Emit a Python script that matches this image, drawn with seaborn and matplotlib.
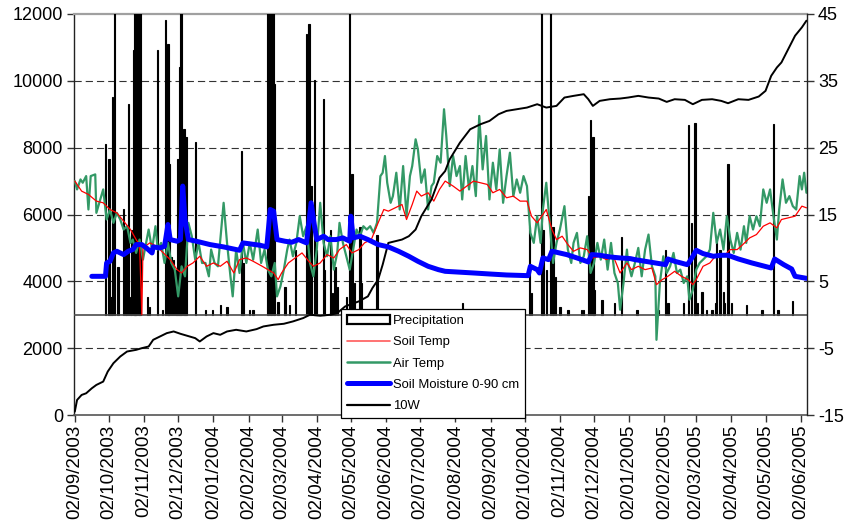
import numpy as np
import pandas as pd
import matplotlib
matplotlib.use('Agg')
import matplotlib.pyplot as plt
import matplotlib.dates as mdates
from matplotlib.patches import Patch
from matplotlib.lines import Line2D
import seaborn as sns

# ---------------- data (x values are days since start_date) ----------------
start_date = '2003-09-02'
axis_end_day = 644.5

precip_day = [27, 30, 32, 33, 35, 38, 43, 45, 47, 49, 50, 52, 53, 54, 56, 57, 58, 64, 66, 73,
              77, 80, 82, 83, 85, 87, 89, 91, 92, 93, 94, 96, 98, 106, 115, 121, 128, 134, 147, 148,
              154, 157, 170, 172, 173, 175, 176, 179, 185, 189, 194, 204, 206, 208, 211, 213, 219, 220, 225, 227,
              229, 231, 239, 242, 244, 246, 251, 252, 266, 341, 400, 402, 411, 412, 415, 419, 421, 423, 427, 434,
              446, 448, 452, 454, 456, 457, 464, 475, 481, 495, 514, 520, 522, 536, 540, 543, 546, 548, 552, 556,
              561, 564, 565, 568, 571, 572, 575, 578, 591, 605, 615, 619, 632]
precip_mm = [34, 31, 3.6, 43.5, 70, 9.6, 21, 17.6, 42, 3.6, 17, 52.8, 65, 70, 70, 52.8, 70, 3.6, 1.5, 52.8,
             1, 58.8, 54, 30, 11.6, 11, 9, 31, 49.5, 70, 70, 37, 35.5, 34.5, 1, 1, 2, 1.5, 32.6, 10.3,
             1, 1, 70, 70, 70, 70, 46, 2.5, 5.6, 2, 13, 56, 58, 25.6, 46.8, 13, 43, 9, 17, 4.3,
             9.6, 5.6, 3.6, 70, 28, 6.3, 17.6, 6.3, 16, 2.3, 17.6, 4.3, 70, 17, 9, 70, 17.6, 7.6, 1.5, 1,
             1, 1, 23.6, 38.9, 35.5, 5, 3, 2.3, 15.6, 1, 1, 13, 2.3, 2.3, 37.9, 18.3, 38.2, 2.3, 4.6, 1,
             1, 2.3, 15, 13, 4.6, 2.3, 30, 2.3, 2, 1, 38, 1, 2.7]

soil_temp_day = [0, 6, 12, 19, 25, 31, 37, 43, 49, 54, 57, 59, 60, 66, 72, 78, 84, 90, 94, 99,
                 104, 110, 116, 122, 128, 134, 140, 145, 151, 157, 165, 170, 175, 179, 182, 188, 194, 200, 206, 210,
                 216, 222, 228, 233, 239, 244, 250, 255, 261, 267, 272, 276, 282, 288, 292, 297, 301, 305, 311, 316,
                 321, 326, 333, 339, 345, 351, 357, 363, 368, 374, 380, 386, 392, 398, 402, 407, 411, 415, 420, 424,
                 429, 434, 439, 445, 451, 456, 462, 468, 474, 480, 486, 490, 496, 502, 508, 512, 517, 522, 528, 534,
                 540, 544, 547, 553, 559, 565, 571, 577, 583, 588, 594, 600, 606, 612, 618, 622, 628, 634, 640, 644]
soil_temp = [20.0, 18.5, 18.0, 17.0, 16.75, 15.75, 15.25, 14.0, 12.75, 11.25, 10.5, 0.0, 10.0, 10.75, 10.25, 9.25, 8.25, 6.75, 6.25, 7.25,
             7.75, 8.75, 7.25, 7.75, 7.25, 8.0, 6.25, 8.25, 8.5, 8.0, 7.25, 6.75, 6.25, 5.25, 6.25, 7.75, 8.5, 9.25, 8.0, 7.25,
             7.75, 9.0, 8.5, 9.75, 10.5, 9.25, 9.75, 10.75, 11.25, 13.75, 15.75, 15.5, 16.0, 16.5, 14.25, 16.5, 18.5, 17.75, 18.25, 17.0,
             18.75, 20.0, 19.25, 18.5, 19.25, 20.0, 19.75, 19.5, 18.25, 18.75, 17.5, 17.75, 17.0, 17.0, 14.75, 13.75, 14.75, 15.75, 12.75, 11.25,
             11.75, 10.5, 9.5, 10.0, 9.75, 8.5, 8.75, 8.25, 8.75, 6.25, 7.75, 6.75, 7.25, 6.75, 7.0, 4.5, 5.25, 5.75, 6.5, 5.75,
             5.25, 4.5, 5.25, 7.25, 7.75, 9.0, 8.75, 9.75, 9.75, 10.5, 11.5, 12.0, 13.25, 13.75, 13.0, 14.25, 14.5, 14.75, 16.25, 16.0]

air_temp_day = [0, 2, 5, 7, 10, 12, 14, 18, 19, 25, 28, 31, 34, 37, 40, 43, 46, 49, 51, 54,
                57, 60, 65, 68, 71, 73, 76, 79, 82, 85, 88, 91, 94, 97, 100, 103, 106, 109, 112, 115,
                118, 120, 123, 126, 131, 134, 137, 139, 142, 145, 148, 151, 154, 157, 161, 164, 167, 170, 173, 176,
                178, 181, 184, 187, 189, 192, 195, 198, 201, 204, 207, 210, 213, 216, 219, 222, 225, 228, 231, 233,
                236, 239, 242, 245, 248, 251, 254, 257, 260, 263, 266, 269, 271, 273, 275, 278, 280, 283, 286, 289,
                292, 295, 297, 300, 302, 305, 308, 311, 314, 316, 319, 322, 325, 327, 330, 333, 336, 339, 341, 344,
                347, 350, 353, 356, 359, 362, 365, 368, 371, 374, 377, 380, 383, 386, 389, 392, 395, 398, 401, 404,
                407, 410, 412, 415, 418, 421, 424, 427, 431, 434, 437, 439, 442, 445, 448, 451, 454, 457, 460, 463,
                466, 469, 472, 475, 478, 480, 483, 486, 487, 490, 493, 496, 499, 502, 505, 508, 511, 512, 515, 518,
                521, 524, 527, 530, 533, 536, 539, 541, 544, 547, 550, 553, 556, 559, 562, 565, 568, 571, 574, 577,
                580, 583, 586, 589, 591, 594, 597, 600, 603, 606, 609, 612, 615, 618, 620, 623, 626, 629, 632, 635,
                638, 640, 642, 644]
air_temp = [20.0, 18.75, 20.25, 19.75, 20.75, 15.75, 20.75, 21.0, 15.25, 18.75, 14.25, 15.75, 13.75, 15.25, 14.25, 12.75, 13.25, 10.75, 11.25, 9.25,
            11.25, 8.25, 12.75, 9.75, 13.25, 9.75, 10.75, 7.75, 10.75, 7.75, 6.75, 2.75, 7.25, 5.75, 13.75, 11.75, 8.25, 10.75, 7.75, 7.75,
            5.75, 9.75, 7.75, 7.25, 16.75, 10.75, 5.75, 2.75, 9.75, 6.25, 10.75, 7.75, 10.75, 8.25, 12.75, 7.75, 9.75, 6.75, 5.75, 7.75,
            2.75, 4.25, 6.75, 9.75, 11.25, 8.75, 10.75, 14.75, 11.75, 13.25, 7.75, 5.75, 9.75, 16.75, 10.75, 8.75, 11.75, 6.75, 9.25, 13.75,
            10.75, 8.75, 6.75, 9.75, 12.75, 11.75, 13.25, 12.75, 13.25, 12.25, 13.75, 20.75, 21.25, 23.75, 19.75, 16.75, 17.75, 21.25, 15.75, 22.25,
            14.75, 20.75, 22.25, 26.25, 24.75, 19.75, 21.75, 15.75, 19.25, 19.75, 23.75, 22.75, 30.75, 26.75, 19.25, 23.75, 20.75, 22.25, 17.25, 23.75,
            18.75, 22.25, 17.75, 29.75, 21.75, 26.75, 17.25, 22.75, 18.75, 24.75, 16.75, 20.75, 24.25, 17.75, 20.25, 18.25, 20.75, 19.25, 12.25, 10.75,
            14.75, 10.75, 15.75, 19.75, 13.75, 7.75, 10.75, 12.75, 16.25, 9.75, 7.75, 10.75, 12.25, 7.75, 8.75, 11.75, 6.25, 7.75, 10.75, 8.25,
            11.25, 6.75, 10.75, 6.25, 4.75, 0.75, 4.75, 9.75, 7.75, 5.75, 7.75, 10.0, 5.75, 9.75, 12.0, 7.25, 5.75, -3.75, 4.75, 8.75,
            6.25, 7.25, 9.25, 6.25, 6.75, 4.75, 5.75, 2.25, 3.75, 6.75, 7.75, 8.25, 8.75, 9.75, 15.25, 10.75, 12.75, 9.75, 14.75, 11.25,
            9.25, 12.25, 9.75, 13.25, 10.75, 14.75, 12.75, 14.75, 13.25, 18.75, 16.75, 18.75, 14.75, 11.25, 15.75, 20.25, 16.75, 17.75, 16.25, 15.75,
            20.75, 18.75, 21.25, 18.25]

moisture_day = [15, 27, 28, 31, 34, 37, 43, 47, 51, 54, 59, 63, 68, 69, 75, 79, 82, 84, 90, 93,
                95, 97, 100, 107, 119, 131, 145, 148, 163, 169, 172, 175, 178, 185, 191, 197, 204, 208, 211, 213,
                219, 223, 230, 236, 242, 243, 245, 251, 258, 267, 276, 285, 294, 302, 311, 320, 326, 336, 351, 365,
                380, 399, 401, 407, 409, 412, 417, 420, 424, 433, 442, 452, 455, 462, 471, 480, 489, 493, 502, 511,
                520, 522, 528, 539, 540, 544, 547, 553, 562, 569, 575, 584, 596, 613, 616, 624, 631, 634, 644]
moisture = [4150, 4150, 4550, 4600, 4850, 4900, 4800, 4900, 4950, 5100, 5100, 5000, 4850, 5030, 5000, 5050, 5700, 5250, 5200, 5250,
            6850, 5850, 5250, 5200, 5100, 5030, 4930, 5150, 5080, 5030, 6150, 6100, 5250, 5200, 5170, 5250, 5150, 6350, 5650, 5250,
            5350, 5250, 5250, 5300, 5200, 5950, 5300, 5350, 5250, 5100, 5030, 4900, 4750, 4600, 4450, 4350, 4300, 4280, 4250, 4220,
            4190, 4170, 4450, 4350, 4250, 4700, 4650, 4900, 4870, 4800, 4700, 4580, 4800, 4780, 4730, 4700, 4680, 4650, 4600, 4550,
            4500, 4670, 4600, 4500, 4530, 4750, 4930, 4830, 4750, 4780, 4780, 4670, 4550, 4400, 4670, 4500, 4370, 4150, 4090]

w10_day = [0, 2, 6, 10, 15, 19, 25, 29, 34, 40, 46, 54, 59, 65, 69, 75, 81, 87, 93, 101,
           106, 110, 116, 122, 128, 134, 142, 151, 160, 166, 175, 184, 192, 201, 207, 216, 225, 231, 238, 250,
           258, 262, 267, 271, 276, 282, 288, 294, 300, 305, 314, 321, 326, 330, 339, 348, 357, 365, 373, 380,
           389, 398, 407, 415, 424, 431, 439, 448, 452, 456, 462, 471, 480, 487, 496, 505, 514, 521, 528, 537,
           544, 552, 561, 569, 575, 584, 593, 602, 608, 613, 618, 622, 628, 634, 640, 644]
w10 = [100, 450, 600, 650, 800, 900, 1000, 1300, 1550, 1750, 1900, 1950, 2000, 2050, 2250, 2350, 2450, 2500, 2430, 2350,
       2300, 2200, 2350, 2450, 2400, 2500, 2550, 2500, 2570, 2650, 2700, 2730, 2800, 2900, 3000, 2970, 3000, 3050, 3250, 3400,
       3550, 3800, 4050, 4500, 5150, 5200, 5250, 5350, 5550, 5950, 6450, 7100, 7300, 7650, 8150, 8550, 8700, 8800, 9000, 9100,
       9150, 9200, 9300, 9200, 9250, 9500, 9550, 9600, 9450, 9250, 9400, 9450, 9470, 9500, 9550, 9500, 9470, 9370, 9450, 9430,
       9300, 9430, 9450, 9400, 9330, 9450, 9430, 9530, 9700, 10150, 10400, 10550, 10950, 11350, 11600, 11800]

left_ticks = [0, 2000, 4000, 6000, 8000, 10000, 12000]
right_ticks = [-15, -5, 5, 15, 25, 35, 45]
legend_labels = ['Precipitation', 'Soil Temp', 'Air Temp', 'Soil Moisture 0-90 cm', '10W']

# ---------------- helpers ----------------
t0 = pd.Timestamp(start_date)
def to_dates(days):
    return t0 + pd.to_timedelta(np.asarray(days, dtype=float), unit='D')

# ---------------- figure ----------------
sns.set_style('white')
plt.rcParams['font.family'] = ['Liberation Sans', 'DejaVu Sans']
plt.rcParams['axes.unicode_minus'] = False

fig = plt.figure(figsize=(8.53, 5.31), dpi=100)
ax = fig.add_axes([74 / 853, 116 / 531, 733 / 853, 401 / 531])
ax_p = ax.twinx()   # precipitation (hidden scale)
ax_r = ax.twinx()   # temperatures (right scale)
ax_m = ax.twinx()   # 10W and soil moisture (left scale)
ax.set_zorder(0); ax_p.set_zorder(1); ax_r.set_zorder(2); ax_m.set_zorder(3)
ax.patch.set_facecolor('white')

# gridlines on the base axis
for v in left_ticks[1:-1]:
    ax.axhline(v, color='#333333', lw=0.8, linestyle=(0, (6.5, 3.6)), zorder=1)

# precipitation bars
ax_p.bar(to_dates(precip_day), precip_mm, width=1.2, color='black',
         edgecolor='black', linewidth=0.8, zorder=2)
ax_p.axhline(0, color='#4d4d4d', lw=1.2, zorder=3)
ax_p.set_ylim(-20, 60)
ax_p.set_axis_off()

# temperatures
sns.lineplot(x=to_dates(air_temp_day), y=air_temp, ax=ax_r, color='#339966',
             linewidth=1.6, estimator=None, legend=False)
sns.lineplot(x=to_dates(soil_temp_day), y=soil_temp, ax=ax_r, color='red',
             linewidth=0.9, estimator=None, legend=False)
ax_r.set_ylim(-15, 45)
ax_r.set_yticks(right_ticks)
ax_r.set_ylabel('')

# 10W and soil moisture
sns.lineplot(x=to_dates(w10_day), y=w10, ax=ax_m, color='black',
             linewidth=1.4, estimator=None, legend=False)
sns.lineplot(x=to_dates(moisture_day), y=moisture, ax=ax_m, color='#0000ff',
             linewidth=3.6, estimator=None, legend=False)
ax_m.set_ylim(0, 12000)
ax_m.set_yticks([])
ax_m.set_ylabel('')
for s in ax_m.spines.values():
    s.set_visible(False)

# base axis
ax.set_ylim(0, 12000)
ax.set_yticks(left_ticks)
ax.set_xlim(t0 - pd.Timedelta(days=0.7), t0 + pd.Timedelta(days=axis_end_day))
ax.xaxis.set_major_locator(mdates.MonthLocator(bymonthday=2))
ax.xaxis.set_major_formatter(mdates.DateFormatter('%d/%m/%Y'))
ax.set_xlabel('')
ax.set_ylabel('')
for lab in ax.get_xticklabels():
    lab.set_rotation(90)

ax.tick_params(axis='x', bottom=True, direction='out', length=5, width=1,
               color='#333333', labelsize=13.5, labelcolor='black', pad=2)
ax.tick_params(axis='y', left=True, direction='out', length=5, width=1,
               color='#333333', labelsize=13, labelcolor='black', pad=3)
ax_r.tick_params(axis='y', right=True, direction='out', length=5, width=1,
                 color='#333333', labelsize=13, labelcolor='black', pad=3)
ax_r.tick_params(axis='x', bottom=False, labelbottom=False)
ax_m.tick_params(axis='x', bottom=False, labelbottom=False)

ax.spines['top'].set_color('#a0a0a0'); ax.spines['top'].set_linewidth(1.6)
ax.spines['left'].set_color('#222222'); ax.spines['left'].set_linewidth(1.0)
ax.spines['bottom'].set_color('#555555'); ax.spines['bottom'].set_linewidth(1.2)
ax.spines['right'].set_visible(False)
for side in ['top', 'bottom', 'left']:
    ax_r.spines[side].set_visible(False)
ax_r.spines['right'].set_color('#222222'); ax_r.spines['right'].set_linewidth(1.0)

# legend
handles = [Patch(facecolor='white', edgecolor='black', linewidth=1.6),
           Line2D([], [], color='#ff5a5a', lw=1.2),
           Line2D([], [], color='#339966', lw=1.8),
           Line2D([], [], color='#0000ff', lw=3.6),
           Line2D([], [], color='black', lw=1.6)]
leg = fig.legend(handles, legend_labels, loc='upper left',
                 bbox_to_anchor=(341 / 853, 1 - 309 / 531), bbox_transform=fig.transFigure,
                 frameon=True, fancybox=False, framealpha=1, edgecolor='black',
                 fontsize=9.4, handlelength=3.3, handletextpad=0.25,
                 labelspacing=0.7, borderpad=0.45, borderaxespad=0)
leg.get_frame().set_linewidth(0.9)
for t in leg.get_texts():
    t.set_color('black')

fig.savefig('out.png', dpi=100)
